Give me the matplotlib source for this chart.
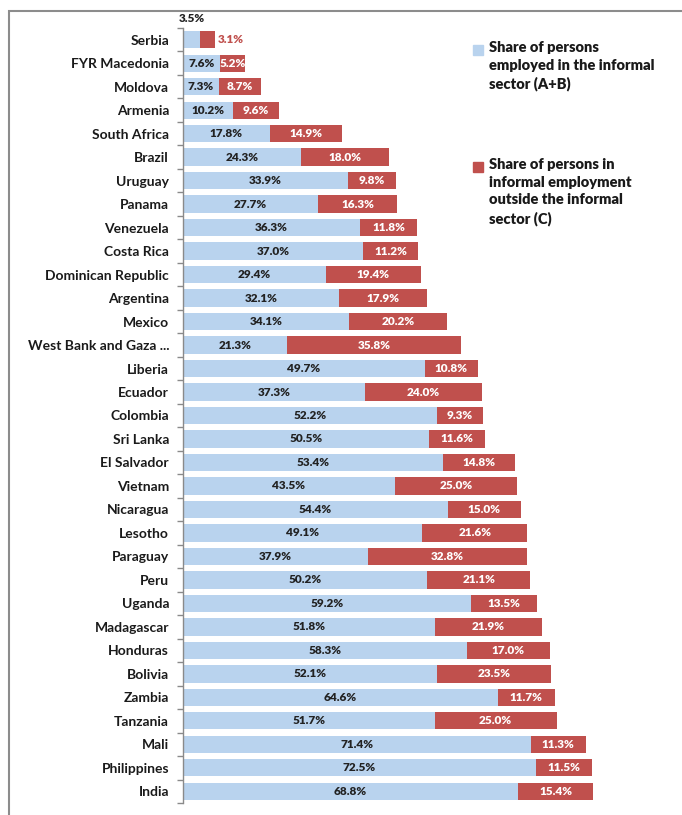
import matplotlib
matplotlib.use("Agg")
import matplotlib.pyplot as plt
from matplotlib.patches import Rectangle
import numpy as np

countries = [
    "Serbia", "FYR Macedonia", "Moldova", "Armenia", "South Africa", "Brazil",
    "Uruguay", "Panama", "Venezuela", "Costa Rica", "Dominican Republic",
    "Argentina", "Mexico", "West Bank and Gaza ...", "Liberia", "Ecuador",
    "Colombia", "Sri Lanka", "El Salvador", "Vietnam", "Nicaragua", "Lesotho",
    "Paraguay", "Peru", "Uganda", "Madagascar", "Honduras", "Bolivia",
    "Zambia", "Tanzania", "Mali", "Philippines", "India",
]
informal_sector = [
    3.5, 7.6, 7.3, 10.2, 17.8, 24.3, 33.9, 27.7, 36.3, 37.0, 29.4, 32.1, 34.1,
    21.3, 49.7, 37.3, 52.2, 50.5, 53.4, 43.5, 54.4, 49.1, 37.9, 50.2, 59.2,
    51.8, 58.3, 52.1, 64.6, 51.7, 71.4, 72.5, 68.8,
]
outside_sector = [
    3.1, 5.2, 8.7, 9.6, 14.9, 18.0, 9.8, 16.3, 11.8, 11.2, 19.4, 17.9, 20.2,
    35.8, 10.8, 24.0, 9.3, 11.6, 14.8, 25.0, 15.0, 21.6, 32.8, 21.1, 13.5,
    21.9, 17.0, 23.5, 11.7, 25.0, 11.3, 11.5, 15.4,
]
legend_labels = [
    "Share of persons\nemployed in the informal\nsector (A+B)",
    "Share of persons in\ninformal employment\noutside the informal\nsector (C)",
]

BLUE = "#b9d3ee"
RED = "#c0504d"
FONT = "Lato"
VAL_W = "heavy"

W, H = 682, 815
fig = plt.figure(figsize=(W / 100, H / 100), dpi=100)
fig.patch.set_facecolor("white")

ax = fig.add_axes([183 / W, 1 - 803 / H, 487 / W, 775 / H])
y = np.arange(len(countries))
a = np.array(informal_sector)
c = np.array(outside_sector)

ax.barh(y, a, height=0.74, color=BLUE, edgecolor="none")
ax.barh(y, c, left=a, height=0.74, color=RED, edgecolor="none")

ax.set_xlim(0, 100)
ax.set_ylim(len(countries) - 0.5, -0.5)

for i, (va, vc) in enumerate(zip(a, c)):
    if i == 0:
        # smallest row: labels placed outside the tiny segments
        ax.text(va / 2, -0.9, f"{va:.1f}%", ha="center", va="center",
                fontsize=8.5, fontweight=VAL_W, color="#222222",
                family=FONT, clip_on=False)
        ax.text(va + vc + 0.6, i, f"{vc:.1f}%", ha="left", va="center",
                fontsize=8.5, fontweight=VAL_W, color=RED, family=FONT)
        continue
    ax.text(va / 2, i, f"{va:.1f}%", ha="center", va="center",
            fontsize=8.5, fontweight=VAL_W, color="#222222", family=FONT)
    ax.text(va + vc / 2, i, f"{vc:.1f}%", ha="center", va="center",
            fontsize=8.5, fontweight=VAL_W, color="white", family=FONT)

ax.set_yticks(y)
ax.set_yticklabels(countries, fontsize=10, fontweight="bold",
                   family=FONT, color="#1a1a1a")
ax.tick_params(axis="y", which="major", length=0, pad=10)
ax.set_yticks(np.arange(len(countries) + 1) - 0.5, minor=True)
ax.tick_params(axis="y", which="minor", length=4, width=1,
               color="#8a8a8a", direction="out")
ax.set_xticks([])
for side in ["top", "right", "bottom"]:
    ax.spines[side].set_visible(False)
ax.spines["left"].set_color("#8a8a8a")
ax.spines["left"].set_linewidth(1.0)

# legend drawn as swatches with wrapped text
legend_rows = [(45, BLUE), (162, RED)]
for (top, color), label in zip(legend_rows, legend_labels):
    fig.patches.append(Rectangle((473 / W, 1 - (top + 10) / H), 10 / W, 10 / H,
                                 transform=fig.transFigure, color=color,
                                 figure=fig))
    fig.text(489 / W, 1 - (top - 4) / H, label, ha="left", va="top",
             fontsize=10.5, fontweight="heavy", family=FONT, color="#1a1a1a",
             linespacing=1.42)

# outer frame
fig.patches.append(Rectangle((9 / W, -0.05), 1.1, 1 - 11 / H + 0.05,
                             transform=fig.transFigure, fill=False,
                             edgecolor="#8c8c8c", linewidth=1.5, figure=fig))

fig.savefig("out.png", dpi=100)
